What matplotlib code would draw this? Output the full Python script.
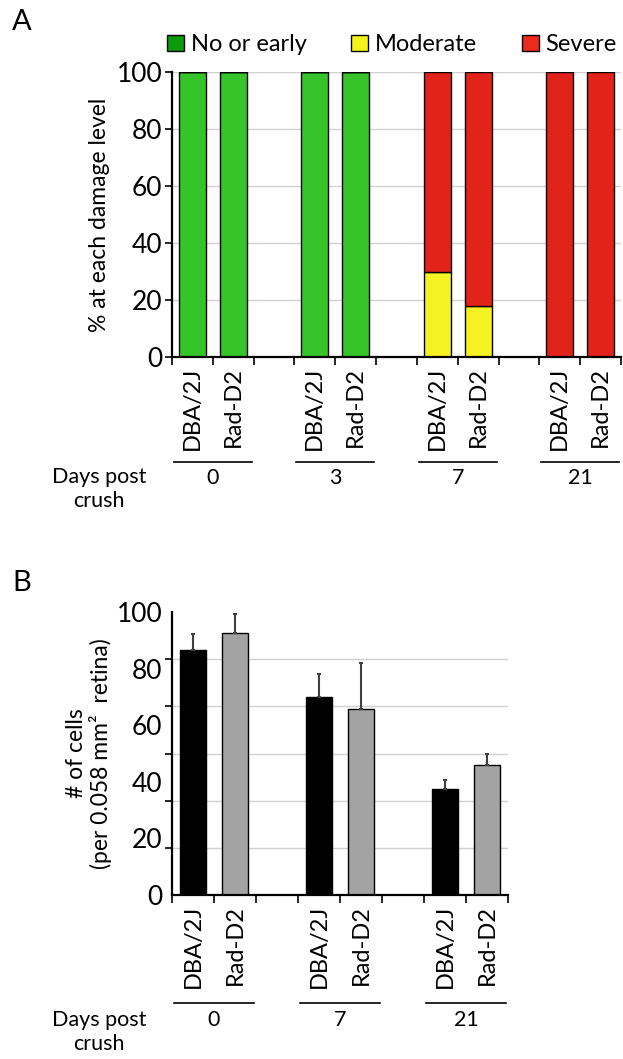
import numpy as np
import matplotlib
matplotlib.use("Agg")
import matplotlib.pyplot as plt
from matplotlib.patches import Patch
import matplotlib.transforms as mtransforms

plt.rcParams['font.family'] = ['Lato', 'DejaVu Sans']

# Panel A: damage level (%) per strain and day
days_A = ['0', '3', '7', '21']
strains = ['DBA/2J', 'Rad-D2']
no_early = [100, 100, 100, 100, 0, 0, 0, 0]
moderate = [0, 0, 0, 0, 30, 18, 0, 0]
severe = [0, 0, 0, 0, 70, 82, 100, 100]

# Panel B: number of cells per 0.058 mm2 retina
days_B = ['0', '7', '21']
cells_dba = [86.5, 70.0, 37.3]
cells_rad = [92.5, 65.9, 46.0]
err_dba = [5.6, 8.0, 3.4]
err_rad = [6.8, 16.2, 3.8]

W, H = 623, 1059
fig = plt.figure(figsize=(W / 100, H / 100), dpi=100)


def px_axes(l, t, r, b):
    return fig.add_axes([l / W, 1 - b / H, (r - l) / W, (b - t) / H])


def style_axes(ax, nslots):
    ax.set_xlim(-0.5, nslots - 0.5)
    ax.set_ylim(0, 100)
    for s in ['top', 'right']:
        ax.spines[s].set_visible(False)
    ax.spines['left'].set_linewidth(1.6)
    ax.spines['bottom'].set_linewidth(1.6)
    ax.set_xticks(np.arange(-0.5, nslots, 1.0), minor=True)
    ax.tick_params(axis='x', which='minor', length=6, width=1.2, direction='out')
    ax.tick_params(axis='x', which='major', length=0, labelsize=17, pad=7)
    ax.set_axisbelow(True)


def group_labels(ax, days, ytop_frac, ydays_frac):
    trans = mtransforms.blended_transform_factory(ax.transData, ax.transAxes)
    for g, d in enumerate(days):
        ax.plot([3 * g - 0.45, 3 * g + 1.45], [ytop_frac, ytop_frac], color='black',
                lw=1.2, transform=trans, clip_on=False)
        ax.text(3 * g + 0.5, ydays_frac, d, transform=trans, ha='center', va='center',
                fontsize=15.5)


# ---------------- Panel A ----------------
axA = px_axes(172, 72, 621, 357)
style_axes(axA, 11)
posA = [3 * g + k for g in range(4) for k in range(2)]
bw = 0.66
axA.bar(posA, no_early, bw, color='#36c42b', edgecolor='black', lw=1)
axA.bar(posA, moderate, bw, bottom=no_early, color='#f5f223', edgecolor='black', lw=1)
bottom_sev = np.array(no_early) + np.array(moderate)
axA.bar(posA, severe, bw, bottom=bottom_sev, color='#e2231a', edgecolor='black', lw=1)
axA.set_yticks(np.arange(0, 101, 20))
axA.yaxis.grid(True, color='#d0d0d0', lw=1)
axA.tick_params(axis='y', length=5, width=1.2, labelsize=19, pad=2)
axA.set_xticks(posA)
axA.set_xticklabels(strains * 4, rotation=90)
axA.set_ylabel('% at each damage level', fontsize=16.5, labelpad=5)
group_labels(axA, days_A, -0.368, -0.425)
fig.text(99 / W, 1 - 489 / H, 'Days post\ncrush', ha='center', va='center', fontsize=15.5,
         linespacing=1.2)

handles = [Patch(facecolor='#0a9a0a', edgecolor='black'),
           Patch(facecolor='#f5f21a', edgecolor='black'),
           Patch(facecolor='#ee2a1a', edgecolor='black')]
fig.legend(handles, ['No or early', 'Moderate', 'Severe'], loc='center',
           bbox_to_anchor=(392 / W, 1 - 45 / H), ncol=3, frameon=False, fontsize=17,
           handlelength=0.7, handleheight=0.7, handletextpad=0.3, columnspacing=1.9)
fig.text(12 / W, 1 - 22 / H, 'A', fontsize=21, va='center')

# ---------------- Panel B ----------------
axB = px_axes(172, 612, 508, 895)
style_axes(axB, 8)
posB_dba = [3 * g for g in range(3)]
posB_rad = [3 * g + 1 for g in range(3)]
bwB = 0.62
axB.bar(posB_dba, cells_dba, bwB, color='black', edgecolor='black', lw=1,
        yerr=[np.zeros(3), err_dba], error_kw=dict(ecolor='#404040', elinewidth=1.5,
                                                     capsize=1.5, capthick=1.5))
axB.bar(posB_rad, cells_rad, bwB, color='#a3a3a3', edgecolor='black', lw=1,
        yerr=[np.zeros(3), err_rad], error_kw=dict(ecolor='#404040', elinewidth=1.5,
                                                     capsize=1.5, capthick=1.5))
axB.set_yticks(np.arange(0, 101, 20))
axB.set_yticks(np.linspace(0, 100, 7), minor=True)
axB.tick_params(axis='y', which='major', length=0, labelsize=19, pad=7)
axB.tick_params(axis='y', which='minor', length=5, width=1.2)
axB.yaxis.grid(True, which='minor', color='#d0d0d0', lw=1)
axB.set_xticks(posB_dba + posB_rad)
axB.set_xticklabels(['DBA/2J'] * 3 + ['Rad-D2'] * 3, rotation=90)
axB.set_ylabel('# of cells\n(per 0.058 mm²  retina)', fontsize=16.5, labelpad=3,
               linespacing=1.1)
group_labels(axB, days_B, -0.382, -0.442)
fig.text(99 / W, 1 - 1032 / H, 'Days post\ncrush', ha='center', va='center', fontsize=15.5,
         linespacing=1.2)
fig.text(12 / W, 1 - 583 / H, 'B', fontsize=21, va='center')

fig.savefig('out.png', dpi=100)
